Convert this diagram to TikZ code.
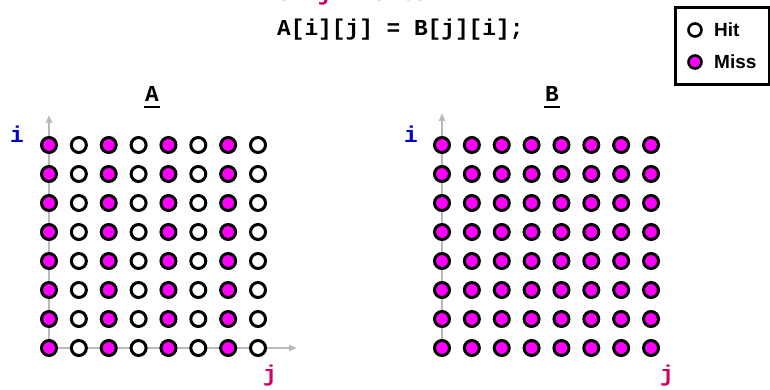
\documentclass[tikz,border=0pt]{standalone}
\usepackage{fontspec}
\newfontfamily\codefont{Liberation Mono}
\newfontfamily\legfont{Liberation Sans}
\usetikzlibrary{arrows.meta}
\definecolor{mag}{RGB}{255,0,255}
\definecolor{jcol}{RGB}{204,0,102}
\definecolor{icol}{RGB}{0,0,204}
\definecolor{axisgray}{RGB}{185,185,185}
\begin{document}
\begin{tikzpicture}[x=1pt,y=-1pt,
  cell/.style={circle,draw=black,line width=3pt,minimum size=15pt,inner sep=0pt},
  misscell/.style={cell,fill=mag},
  hitcell/.style={cell,fill=white},
  legcell/.style={circle,draw=black,line width=2.6pt,minimum size=13pt,inner sep=0pt},
  axisline/.style={draw=axisgray,line width=1.8pt,-{Triangle[length=8pt,width=6pt]}},
  code/.style={font=\codefont\bfseries\fontsize{22.8}{25}\selectfont,inner sep=0pt,anchor=base west},
  legtext/.style={font=\legfont\bfseries\fontsize{19}{21}\selectfont,inner sep=0pt,anchor=west},
]
\useasboundingbox (0,0) rectangle (770,390);

% code
\node[code] (forline) at (263,1) {for \textcolor{jcol}{j} = 0 to 7};
\node[code] (codeline) at (277,36) {A[i][j] = B[j][i];};

% legend
\node[draw,line width=2.8pt,minimum width=94pt,minimum height=77pt,anchor=north west,inner sep=0pt] (legend) at (674,6) {};
\node[legcell,fill=white] (leghit) at (695,30) {};
\node[legcell,fill=mag] (legmiss) at (695,62) {};
\node[legtext] (hittext) at (714,30) {Hit};
\node[legtext] (misstext) at (714,62) {Miss};

% titles
\node[code,anchor=base] (titleA) at (152,102) {\rlap{\hspace{-0.05em}\rule[-6.5pt]{0.7em}{2.6pt}}A};
\node[code,anchor=base] (titleB) at (552,102) {\rlap{\hspace{-0.05em}\rule[-6.5pt]{0.7em}{2.6pt}}B};

% axes
\coordinate (Aorig) at (49,348);
\coordinate (Aitop) at (49,115);
\coordinate (Ajend) at (297,348);
\coordinate (Borig) at (442,348);
\coordinate (Bitop) at (442,113);
\draw[axisline] (Aorig) -- (Aitop);
\draw[axisline] (Aorig) -- (Ajend);
\draw[axisline] (Borig) -- (Bitop);

% axis labels
\node[code,anchor=center,text=icol] (Ai) at (17,134) {i};
\node[code,anchor=center,text=icol] (Bi) at (411,134) {i};
\node[code,anchor=center,text=jcol] (Aj) at (270,376) {j};
\node[code,anchor=center,text=jcol] (Bj) at (667,376) {j};

% grid A
\foreach \r in {0,...,7}{
  \foreach \c in {0,...,7}{
    \pgfmathparse{isodd(\c)}
    \ifnum\pgfmathresult=1
      \node[hitcell] (a-\r-\c) at (49+29.86*\c,145+29*\r) {};
    \else
      \node[misscell] (a-\r-\c) at (49+29.86*\c,145+29*\r) {};
    \fi
  }
}
% grid B
\foreach \r in {0,...,7}{
  \foreach \c in {0,...,7}{
    \node[misscell] (b-\r-\c) at (442+29.86*\c,145+29*\r) {};
  }
}
\end{tikzpicture}
\end{document}
